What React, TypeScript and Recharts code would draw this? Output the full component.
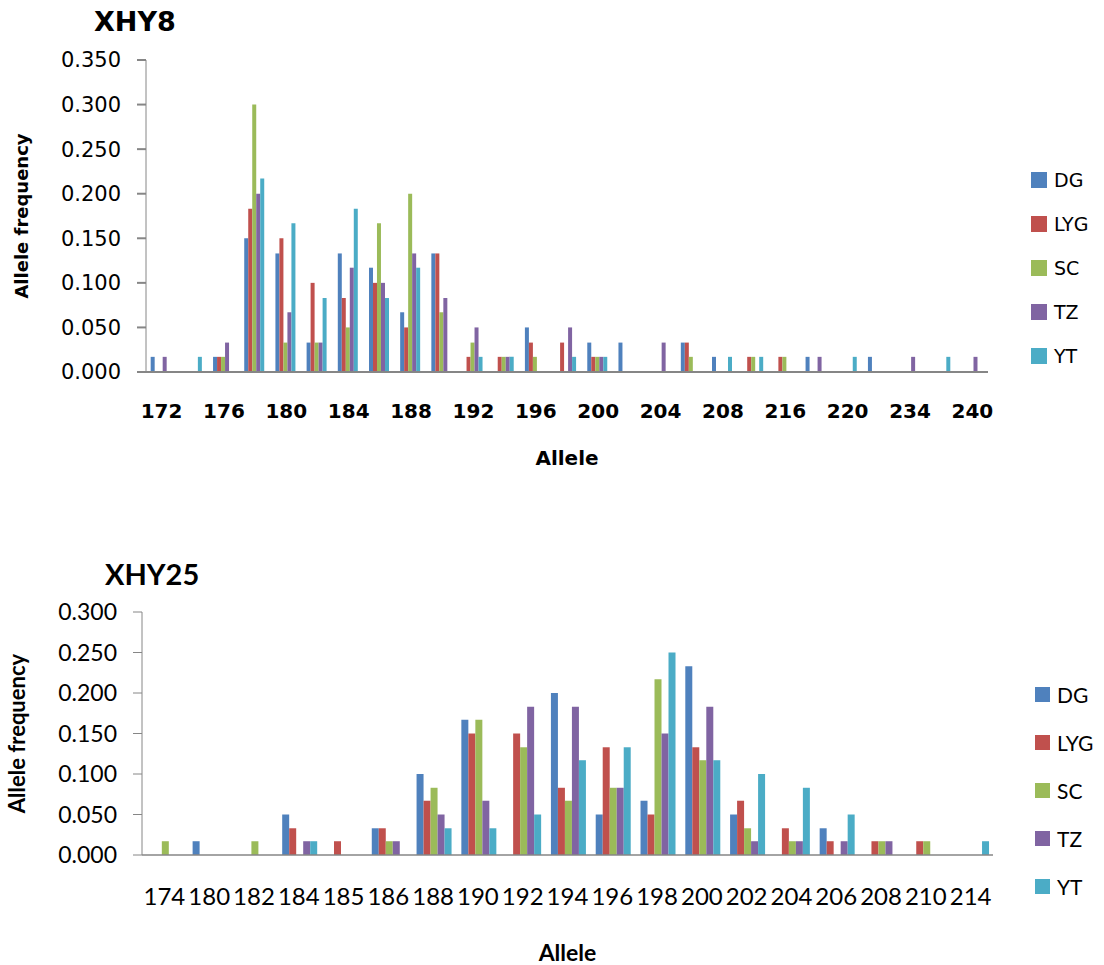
import React from "react";
import { BarChart, Bar, XAxis, YAxis, Legend } from "recharts";

// population codes, same order and colours in both panels
const POPS = ["DG", "LYG", "SC", "TZ", "YT"];
const COLORS = ["#4F81BD", "#C0504D", "#9BBB59", "#8064A2", "#4BACC6"];

// XHY8 – every second allele is labelled on the axis
const xhy8Alleles = [
  "172", "174", "176", "178", "180", "182", "184", "186", "188", "190",
  "192", "194", "196", "198", "200", "202", "204", "206", "208", "212",
  "216", "218", "220", "222", "234", "238", "240",
];
const xhy8DG = [
  0.017, 0, 0.017, 0.15, 0.133, 0.033, 0.133, 0.117, 0.067, 0.133,
  0, 0, 0.05, 0, 0.033, 0.033, 0, 0.033, 0.017, 0,
  0, 0.017, 0, 0.017, 0, 0, 0,
];
const xhy8LYG = [
  0, 0, 0.017, 0.183, 0.15, 0.1, 0.083, 0.1, 0.05, 0.133,
  0.017, 0.017, 0.033, 0.033, 0.017, 0, 0, 0.033, 0, 0.017,
  0.017, 0, 0, 0, 0, 0, 0,
];
const xhy8SC = [
  0, 0, 0.017, 0.3, 0.033, 0.033, 0.05, 0.167, 0.2, 0.067,
  0.033, 0.017, 0.017, 0, 0.017, 0, 0, 0.017, 0, 0.017,
  0.017, 0, 0, 0, 0, 0, 0,
];
const xhy8TZ = [
  0.017, 0, 0.033, 0.2, 0.067, 0.033, 0.117, 0.1, 0.133, 0.083,
  0.05, 0.017, 0, 0.05, 0.017, 0, 0.033, 0, 0, 0,
  0, 0.017, 0, 0, 0.017, 0, 0.017,
];
const xhy8YT = [
  0, 0.017, 0, 0.217, 0.167, 0.083, 0.183, 0.083, 0.117, 0,
  0.017, 0.017, 0, 0.017, 0.017, 0, 0, 0, 0.017, 0.017,
  0, 0, 0.017, 0, 0, 0.017, 0,
];
const xhy8Ticks = [0, 0.05, 0.1, 0.15, 0.2, 0.25, 0.3, 0.35];

// XHY25
const xhy25Alleles = [
  "174", "180", "182", "184", "185", "186", "188", "190", "192", "194",
  "196", "198", "200", "202", "204", "206", "208", "210", "214",
];
const xhy25DG = [
  0, 0.017, 0, 0.05, 0, 0.033, 0.1, 0.167, 0, 0.2,
  0.05, 0.067, 0.233, 0.05, 0, 0.033, 0, 0, 0,
];
const xhy25LYG = [
  0, 0, 0, 0.033, 0.017, 0.033, 0.067, 0.15, 0.15, 0.083,
  0.133, 0.05, 0.133, 0.067, 0.033, 0.017, 0.017, 0.017, 0,
];
const xhy25SC = [
  0.017, 0, 0.017, 0, 0, 0.017, 0.083, 0.167, 0.133, 0.067,
  0.083, 0.217, 0.117, 0.033, 0.017, 0, 0.017, 0.017, 0,
];
const xhy25TZ = [
  0, 0, 0, 0.017, 0, 0.017, 0.05, 0.067, 0.183, 0.183,
  0.083, 0.15, 0.183, 0.017, 0.017, 0.017, 0.017, 0, 0,
];
const xhy25YT = [
  0, 0, 0, 0.017, 0, 0, 0.033, 0.033, 0.05, 0.117,
  0.133, 0.25, 0.117, 0.1, 0.083, 0.05, 0, 0, 0.017,
];
const xhy25Ticks = [0, 0.05, 0.1, 0.15, 0.2, 0.25, 0.3];

function toRows(alleles: string[], series: number[][]) {
  return alleles.map((allele, i) => {
    const row: Record<string, any> = { allele };
    POPS.forEach((p, k) => (row[p] = series[k][i]));
    return row;
  });
}

const xhy8Data = toRows(xhy8Alleles, [xhy8DG, xhy8LYG, xhy8SC, xhy8TZ, xhy8YT]);
const xhy25Data = toRows(xhy25Alleles, [xhy25DG, xhy25LYG, xhy25SC, xhy25TZ, xhy25YT]);

const AXIS_GREY = "#868686";

function legendContent(box: number, rowH: number, fontSize: number) {
  return (props: any) => (
    <div style={{ fontSize, color: "#000" }}>
      {(props.payload || []).map((item: any) => (
        <div
          key={item.value}
          style={{ display: "flex", alignItems: "center", height: rowH }}
        >
          <span
            style={{
              display: "inline-block",
              width: box,
              height: box,
              background: item.color,
              marginRight: 7,
            }}
          />
          <span>{item.value}</span>
        </div>
      ))}
    </div>
  );
}

function XHY8Chart() {
  return (
    <div
      style={{
        position: "absolute",
        left: 0,
        top: 0,
        width: 1104,
        height: 490,
        fontFamily: "DejaVu Sans",
      }}
    >
      <div
        style={{
          position: "absolute",
          left: 94,
          top: 8,
          fontSize: 27,
          lineHeight: "27px",
          fontWeight: "bold",
        }}
      >
        XHY8
      </div>
      <BarChart
        width={1104}
        height={490}
        data={xhy8Data}
        margin={{ top: 60, right: 116, bottom: 38, left: 0 }}
        barCategoryGap="15%"
        barGap={0}
      >
        <XAxis
          dataKey="allele"
          interval={1}
          height={80}
          tickLine={false}
          tickSize={0}
          tickMargin={32}
          axisLine={{ stroke: AXIS_GREY, strokeWidth: 2 }}
          tick={{ fontSize: 20, fontWeight: "bold", fill: "#000" }}
          label={{
            value: "Allele",
            position: "bottom",
            offset: -1,
            fontSize: 20,
            fontWeight: "bold",
            fill: "#000",
          }}
        />
        <YAxis
          width={146}
          domain={[0, 0.35]}
          ticks={xhy8Ticks}
          tickFormatter={(v: number) => v.toFixed(3)}
          tickSize={9}
          tickMargin={16}
          axisLine={{ stroke: AXIS_GREY }}
          tickLine={{ stroke: AXIS_GREY, strokeWidth: 2 }}
          tick={{ fontSize: 21, fill: "#000" }}
          label={{
            value: "Allele frequency",
            angle: -90,
            position: "insideLeft",
            offset: 22,
            fontSize: 18,
            fontWeight: "bold",
            fill: "#000",
            style: { textAnchor: "middle" },
          }}
        />
        <Legend
          layout="horizontal"
          verticalAlign="middle"
          align="center"
          wrapperStyle={{ left: 1031, top: 158, width: 80 }}
          content={legendContent(16, 44, 19)}
        />
        {POPS.map((p, k) => (
          <Bar key={p} dataKey={p} name={p} fill={COLORS[k]} isAnimationActive={false} />
        ))}
      </BarChart>
    </div>
  );
}

function XHY25Chart() {
  return (
    <div
      style={{
        position: "absolute",
        left: 0,
        top: 490,
        width: 1104,
        height: 475,
        fontFamily: "Lato",
      }}
    >
      <div
        style={{
          position: "absolute",
          left: 105,
          top: 69,
          fontSize: 29,
          lineHeight: "29px",
          fontWeight: "bold",
        }}
      >
        XHY25
      </div>
      <BarChart
        width={1104}
        height={475}
        data={xhy25Data}
        margin={{ top: 122, right: 111, bottom: 20, left: 0 }}
        barCategoryGap="13%"
        barGap={0}
      >
        <XAxis
          dataKey="allele"
          interval={0}
          height={90}
          tickLine={false}
          tickSize={0}
          tickMargin={33}
          axisLine={{ stroke: AXIS_GREY, strokeWidth: 1.5 }}
          tick={{ fontSize: 24, fill: "#000" }}
          label={{
            value: "Allele",
            position: "bottom",
            offset: 0,
            fontSize: 23,
            fontWeight: "bold",
            fill: "#000",
          }}
        />
        <YAxis
          width={142}
          domain={[0, 0.3]}
          ticks={xhy25Ticks}
          tickFormatter={(v: number) => v.toFixed(3)}
          tickSize={9}
          tickMargin={16}
          axisLine={{ stroke: AXIS_GREY }}
          tickLine={{ stroke: AXIS_GREY }}
          tick={{ fontSize: 23, fill: "#000" }}
          label={{
            value: "Allele frequency",
            angle: -90,
            position: "insideLeft",
            offset: 17,
            fontSize: 22,
            fontWeight: "bold",
            fill: "#000",
            style: { textAnchor: "middle" },
          }}
        />
        <Legend
          layout="horizontal"
          verticalAlign="middle"
          align="center"
          wrapperStyle={{ left: 1035, top: 180, width: 80 }}
          content={legendContent(15, 48, 21)}
        />
        {POPS.map((p, k) => (
          <Bar key={p} dataKey={p} name={p} fill={COLORS[k]} isAnimationActive={false} />
        ))}
      </BarChart>
    </div>
  );
}

export default function App() {
  return (
    <div
      style={{
        position: "absolute",
        left: 0,
        top: 0,
        width: 1104,
        height: 965,
        background: "#fff",
        overflow: "hidden",
      }}
    >
      <XHY8Chart />
      <XHY25Chart />
    </div>
  );
}
